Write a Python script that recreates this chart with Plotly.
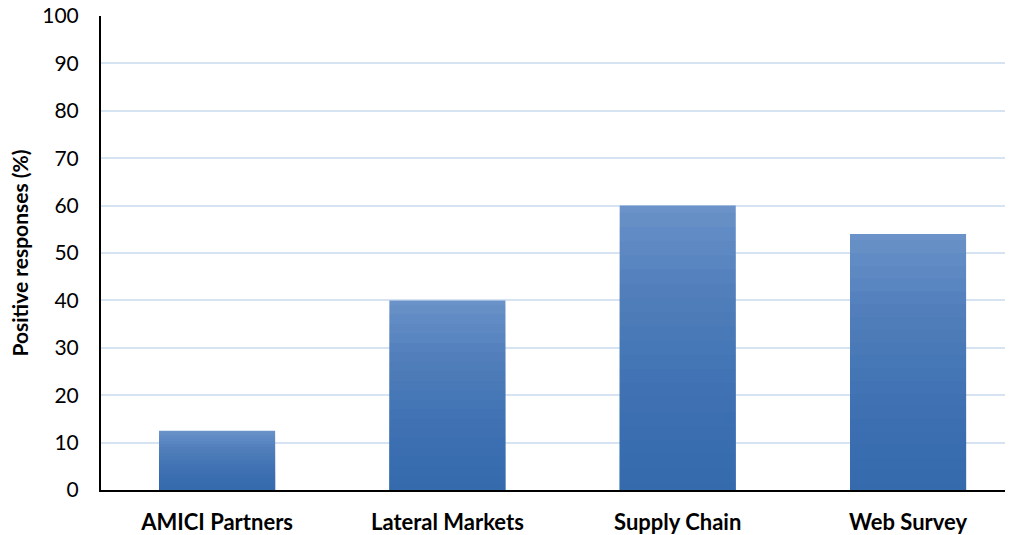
import plotly.graph_objects as go

# Survey results: share of positive responses per source
categories = ["AMICI Partners", "Lateral Markets", "Supply Chain", "Web Survey"]
positive_pct = [12.5, 40, 60, 54]
y_ticks = [0, 10, 20, 30, 40, 50, 60, 70, 80, 90, 100]

TOP_COLOR = "#6b93c9"
SHADE_COLOR = "rgba(48,104,172,0.07)"
N_SHADES = 20
BAR_WIDTH = 0.504
FONT = "Lato, Open Sans, sans-serif"

fig = go.Figure()

# Base bars in the light top colour
fig.add_trace(go.Bar(
    x=categories, y=positive_pct, width=BAR_WIDTH,
    marker=dict(color=TOP_COLOR, line=dict(width=0)),
    name="Positive responses",
))

# Translucent overlays that deepen the colour toward the base of each bar
for k in range(1, N_SHADES + 1):
    frac = 1 - (k - 0.5) / N_SHADES
    fig.add_trace(go.Bar(
        x=categories, y=[v * frac for v in positive_pct], width=BAR_WIDTH,
        marker=dict(color=SHADE_COLOR, line=dict(width=0)),
        hoverinfo="skip", showlegend=False,
    ))

fig.update_layout(
    barmode="overlay",
    width=1011, height=535,
    margin=dict(l=101, r=6, t=16, b=45),
    paper_bgcolor="white", plot_bgcolor="white",
    showlegend=False,
    font=dict(family=FONT, color="#000000"),
)

fig.update_xaxes(
    range=[-0.504, 3.421],
    automargin=False,
    showgrid=False,
    showline=True, linecolor="#000000", linewidth=2,
    ticks="", ticklabelstandoff=12,
    tickfont=dict(size=22, family=FONT, weight="bold"),
)

fig.update_yaxes(
    range=[0, 100],
    automargin=False,
    tickvals=y_ticks,
    showgrid=True, gridcolor="#d6e3f3", gridwidth=1.5,
    zeroline=False,
    showline=True, linecolor="#000000", linewidth=2,
    ticks="", ticklabelstandoff=16,
    tickfont=dict(size=21, family=FONT),
    title=dict(text="Positive responses (%)", standoff=8,
               font=dict(size=21, family=FONT, weight="bold")),
)

fig.write_html("out.html")
